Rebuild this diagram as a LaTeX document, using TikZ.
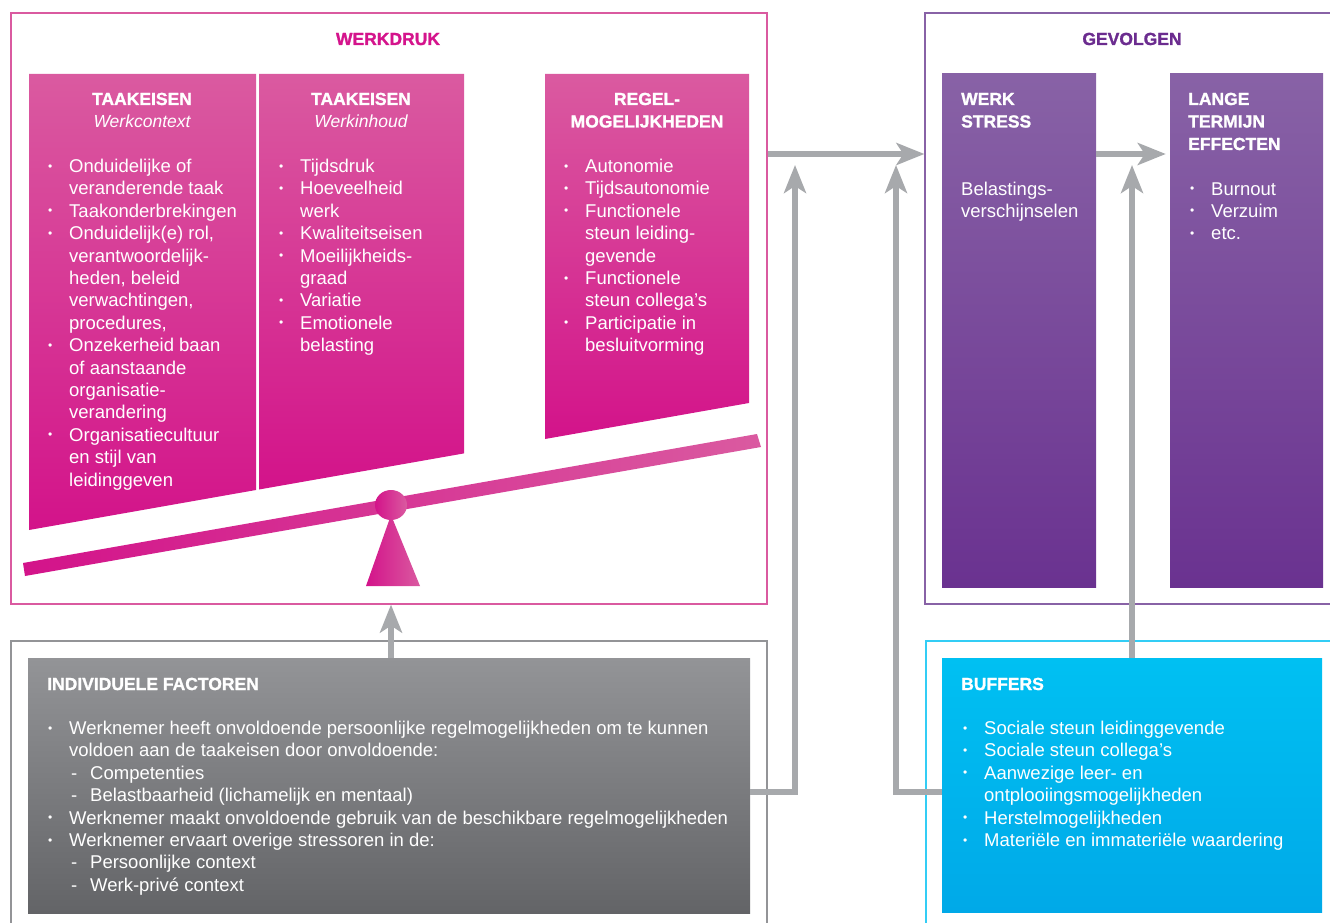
\documentclass[tikz,border=0pt]{standalone}
\usepackage{fontspec}
\setmainfont{Liberation Sans}
\newfontfamily\zwaar{Liberation Sans Bold}[FakeBold=1.3]
\usetikzlibrary{arrows.meta,positioning}

\definecolor{mag}{HTML}{D3138A}
\definecolor{magl}{HTML}{DA5AA0}
\definecolor{magtitel}{HTML}{D4148C}
\definecolor{paars}{HTML}{6A3290}
\definecolor{paarsl}{HTML}{8862A6}
\definecolor{paarstitel}{HTML}{6B2C8F}
\definecolor{cyaan}{HTML}{00A9E8}
\definecolor{cyaanl}{HTML}{00C0F2}
\definecolor{grijs}{HTML}{636467}
\definecolor{grijsl}{HTML}{939497}
\definecolor{pijlkleur}{HTML}{A7A9AC}

\newcommand{\bul}{\makebox[22pt][l]{\hspace{1pt}\raisebox{0.25ex}{\fontsize{12}{12}\selectfont\textbullet}}}
\newcommand{\streep}{\makebox[21pt][l]{\hspace{2pt}-}}
\newcommand{\stapel}[2]{\begin{tabular}[t]{@{}#1@{}}#2\end{tabular}}

\tikzset{
  kader/.style={draw, line width=1.2pt, inner sep=0pt},
  blok/.style={inner sep=0pt},
  lijst/.style={anchor=base west, inner sep=0pt, text=white, font=\fontsize{18.5}{22.4}\selectfont},
  kopje/.style={inner sep=0pt, text=white, font=\zwaar\fontsize{17.5}{22.5}\selectfont},
  pijl/.style={draw=pijlkleur, line width=6pt, -{Stealth[length=28pt,width=22pt,inset=7pt]}},
}

\begin{document}
\begin{tikzpicture}[x=1pt,y=-1pt]
  \useasboundingbox (0,0) rectangle (1330,923);

  % kaders
  \node[kader, draw=magl, minimum width=756pt, minimum height=591pt] (werkdruk) at (389,308.5) {};
  \node[kader, draw=paarsl, minimum width=420pt, minimum height=591pt] (gevolgen) at (1135,308.5) {};
  \node[kader, draw=grijsl, minimum width=756pt, minimum height=299pt] (indivkader) at (389,790.5) {};
  \node[kader, draw=cyaanl!80, minimum width=419pt, minimum height=299pt] (bufkader) at (1135.5,790.5) {};

  \node[anchor=base, text=magtitel, font=\zwaar\fontsize{17.5}{21}\selectfont] (titelwd) at (388,45) {WERKDRUK};
  \node[anchor=base, text=paarstitel, font=\zwaar\fontsize{17.5}{21}\selectfont] (titelgv) at (1132,45) {GEVOLGEN};

  % taakeisen en regelmogelijkheden
  \shade[top color=magl, bottom color=mag] (29,74) -- (256,74) -- (256,490) -- (29,530) -- cycle;
  \shade[top color=magl, bottom color=mag] (259,74) -- (464,74) -- (464,453.4) -- (259,489.5) -- cycle;
  \shade[top color=magl, bottom color=mag] (545,74) -- (749,74) -- (749,403) -- (545,439) -- cycle;

  \node[kopje, anchor=base] (kop1) at (142,105) {\stapel{c}{TAAKEISEN\\ \rmfamily\mdseries\itshape Werkcontext}};
  \node[kopje, anchor=base] (kop2) at (361,105) {\stapel{c}{TAAKEISEN\\ \rmfamily\mdseries\itshape Werkinhoud}};
  \node[kopje, anchor=base] (kop3) at (647,105) {\stapel{c}{REGEL-\\MOGELIJKHEDEN}};

  \node[lijst] (lijst1) at (47,172.5) {\stapel{l@{}l}{%
    \bul & Onduidelijke of\\
         & veranderende taak\\
    \bul & Taakonderbrekingen\\
    \bul & Onduidelijk(e) rol,\\
         & verantwoordelijk-\\
         & heden, beleid\\
         & verwachtingen,\\
         & procedures,\\
    \bul & Onzekerheid baan\\
         & of aanstaande\\
         & organisatie-\\
         & verandering\\
    \bul & Organisatiecultuur\\
         & en stijl van\\
         & leidinggeven}};
  \node[lijst] (lijst2) at (278,172.5) {\stapel{l@{}l}{%
    \bul & Tijdsdruk\\
    \bul & Hoeveelheid\\
         & werk\\
    \bul & Kwaliteitseisen\\
    \bul & Moeilijkheids-\\
         & graad\\
    \bul & Variatie\\
    \bul & Emotionele\\
         & belasting}};
  \node[lijst] (lijst3) at (563,172.5) {\stapel{l@{}l}{%
    \bul & Autonomie\\
    \bul & Tijdsautonomie\\
    \bul & Functionele\\
         & steun leiding-\\
         & gevende\\
    \bul & Functionele\\
         & steun collega’s\\
    \bul & Participatie in\\
         & besluitvorming}};

  % wip
  \shade[left color=mag, right color=magl] (23,563) -- (757,434) -- (761,447) -- (25,576) -- cycle;
  \coordinate (steun) at (391,505);
  \shade[left color=mag, right color=magl] (391,515) -- (420,586) -- (366,586) -- cycle;
  \shade[left color=mag, right color=magl] (steun) ellipse [x radius=16, y radius=15];

  % gevolgen
  \node[blok, top color=paarsl, bottom color=paars, minimum width=154pt, minimum height=513pt] (stress) at (1019,330.5) {};
  \node[blok, top color=paarsl, bottom color=paars, minimum width=153pt, minimum height=513pt] (lange) at (1246.5,330.5) {};

  \node[kopje, anchor=base west] (kop4) at (961,105) {\stapel{l}{WERK\\STRESS}};
  \node[lijst] (lijst4) at (961,195) {\stapel{l}{Belastings-\\verschijnselen}};
  \node[kopje, anchor=base west] (kop5) at (1188,105) {\stapel{l}{LANGE\\TERMIJN\\EFFECTEN}};
  \node[lijst] (lijst5) at (1189,195) {\stapel{l@{}l}{%
    \bul & Burnout\\
    \bul & Verzuim\\
    \bul & etc.}};

  % individuele factoren en buffers
  \node[blok, top color=grijsl, bottom color=grijs, minimum width=722pt, minimum height=255pt] (indiv) at (389,785.5) {};
  \node[blok, top color=cyaanl, bottom color=cyaan, minimum width=380pt, minimum height=254pt] (buffers) at (1132,785) {};

  \node[kopje, anchor=base west] (kop6) at (47,690) {INDIVIDUELE FACTOREN};
  \node[lijst] (lijst6) at (47,734.5) {\stapel{l@{}l}{%
    \bul & Werknemer heeft onvoldoende persoonlijke regelmogelijkheden om te kunnen\\
         & voldoen aan de taakeisen door onvoldoende:\\
         & \streep Competenties\\
         & \streep Belastbaarheid (lichamelijk en mentaal)\\
    \bul & Werknemer maakt onvoldoende gebruik van de beschikbare regelmogelijkheden\\
    \bul & Werknemer ervaart overige stressoren in de:\\
         & \streep Persoonlijke context\\
         & \streep Werk-privé context}};
  \node[kopje, anchor=base west] (kop7) at (961,690) {BUFFERS};
  \node[lijst] (lijst7) at (962,734.5) {\stapel{l@{}l}{%
    \bul & Sociale steun leidinggevende\\
    \bul & Sociale steun collega’s\\
    \bul & Aanwezige leer- en\\
         & ontplooiingsmogelijkheden\\
    \bul & Herstelmogelijkheden\\
    \bul & Materiële en immateriële waardering}};

  % pijlen
  \coordinate (hoog) at (0,154);
  \coordinate (laag) at (0,792);
  \coordinate (opA) at (795,165);
  \coordinate (opB) at (896,165);
  \coordinate (opC) at (1132,165);
  \draw[pijl] (werkdruk.east |- hoog) -- (gevolgen.west |- hoog);
  \draw[pijl] (stress.east |- hoog) -- ([xshift=-4pt]lange.west |- hoog);
  \draw[pijl] (indiv.east |- laag) -| (opA);
  \draw[pijl] (buffers.west |- laag) -| (opB);
  \draw[pijl] (buffers.north) -- (opC);
  \draw[pijl] (steun |- indiv.north) -- (steun |- werkdruk.south);

\end{tikzpicture}
\end{document}
